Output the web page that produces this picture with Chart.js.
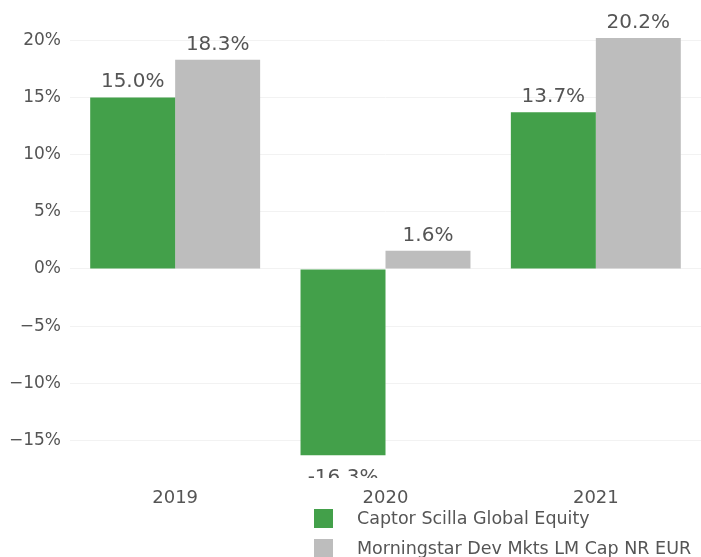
<!DOCTYPE html>
<html>
<head>
<meta charset="utf-8">
<script src="https://cdn.jsdelivr.net/npm/chart.js@4"></script>
<style>
  html, body { margin: 0; padding: 0; background: #fff; }
  #wrap { position: relative; width: 701px; height: 557px; }
  #legend { position: absolute; left: 314px; top: 503px; font-family: "DejaVu Sans", sans-serif; font-size: 17.5px; color: #555; }
  .item { display: flex; align-items: center; height: 30px; white-space: nowrap; }
  .box { width: 19px; height: 19px; margin-right: 24px; flex: none; }
</style>
</head>
<body>
<div id="wrap">
  <canvas id="chart" width="701" height="557"></canvas>
  <div id="legend"></div>
</div>
<script>
// chart data
const years = ['2019', '2020', '2021'];
const fundReturns = [15.0, -16.3, 13.7];
const benchReturns = [18.3, 1.6, 20.2];
const seriesNames = ['Captor Scilla Global Equity', 'Morningstar Dev Mkts LM Cap NR EUR'];
const seriesColors = ['#43a04a', '#bdbdbd'];
const yTicks = [-15, -10, -5, 0, 5, 10, 15, 20];

const FONT = '"DejaVu Sans", sans-serif';
const TEXT = '#555';

// value labels above / below each bar
const valueLabels = {
    id: 'valueLabels',
    afterDatasetsDraw(chart) {
        const ctx = chart.ctx;
        ctx.save();
        ctx.beginPath();
        ctx.rect(0, 13, chart.width, 465);
        ctx.clip();
        ctx.font = '20px ' + FONT;
        ctx.fillStyle = TEXT;
        ctx.textAlign = 'center';
        ctx.textBaseline = 'alphabetic';
        chart.data.datasets.forEach((ds, di) => {
            chart.getDatasetMeta(di).data.forEach((bar, i) => {
                const v = ds.data[i];
                const y = v >= 0 ? bar.y - 10 : bar.y + 28;
                ctx.fillText(v.toFixed(1) + '%', bar.x, y);
            });
        });
        ctx.restore();
    }
};

const chart = new Chart(document.getElementById('chart'), {
    type: 'bar',
    data: {
        labels: years,
        datasets: [
            { label: seriesNames[0], data: fundReturns, backgroundColor: seriesColors[0] },
            { label: seriesNames[1], data: benchReturns, backgroundColor: seriesColors[1] }
        ]
    },
    options: {
        responsive: false,
        animation: false,
        datasets: { bar: { categoryPercentage: 0.808, barPercentage: 1.0 } },
        layout: { padding: { top: 38, right: 0, bottom: 16, left: 0 } },
        plugins: { legend: { display: false }, tooltip: { enabled: false } },
        scales: {
            x: {
                grid: { display: false, drawTicks: false },
                border: { display: false },
                ticks: { color: TEXT, font: { family: FONT, size: 18 }, padding: 32 }
            },
            y: {
                min: -16.3,
                max: 20.2,
                afterBuildTicks: s => { s.ticks = yTicks.map(v => ({ value: v })); },
                afterFit: s => { s.width = 70; },
                grid: { color: '#f2f2f2', drawTicks: false },
                border: { display: false },
                ticks: {
                    color: TEXT,
                    padding: 9,
                    font: { family: FONT, size: 17 },
                    callback: v => (v < 0 ? '\u2212' + Math.abs(v) : v) + '%'
                }
            }
        }
    },
    plugins: [valueLabels]
});

// html legend, stacked
const legend = document.getElementById('legend');
chart.data.datasets.forEach(ds => {
    const row = document.createElement('div');
    row.className = 'item';
    row.innerHTML = `<span class="box" style="background:${ds.backgroundColor}"></span><span>${ds.label}</span>`;
    legend.appendChild(row);
});
</script>
</body>
</html>
